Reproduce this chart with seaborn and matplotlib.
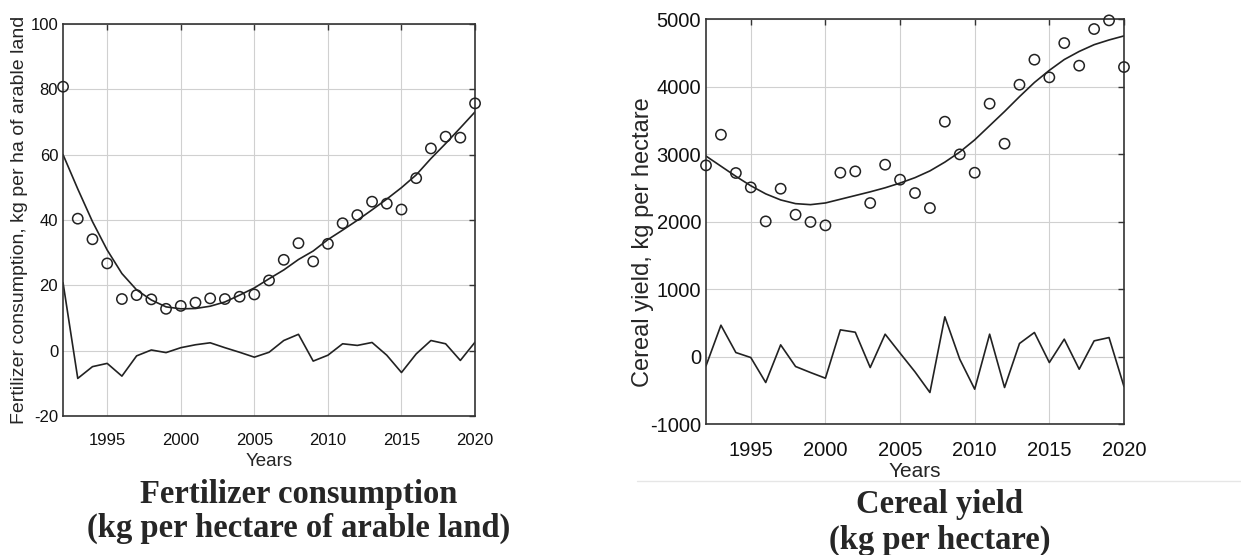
import numpy as np
import pandas as pd
import matplotlib.pyplot as plt
import seaborn as sns
from matplotlib.lines import Line2D

sns.set_style('whitegrid')
plt.rcParams['font.family'] = ['Liberation Sans', 'DejaVu Sans']

years = list(range(1992, 2021))

# fertilizer consumption, kg per ha of arable land
fert_obs = [80.8, 40.4, 34.1, 26.7, 15.8, 17.0, 15.7, 12.8, 13.7, 14.7,
            16.0, 15.8, 16.5, 17.2, 21.5, 27.8, 32.9, 27.3, 32.7, 39.0,
            41.5, 45.6, 45.0, 43.2, 52.8, 61.9, 65.5, 65.2, 75.7]
fert_trend = [60.0, 49.5, 39.5, 30.8, 23.6, 18.6, 15.5, 13.4, 12.8, 12.9,
              13.6, 14.9, 17.0, 19.2, 22.0, 24.7, 27.9, 30.5, 34.0, 36.9,
              39.9, 43.1, 46.4, 49.9, 53.8, 58.8, 63.4, 68.2, 73.1]
fert_resid = [20.8, -8.5, -4.9, -3.9, -7.8, -1.6, 0.2, -0.6, 0.9, 1.8,
              2.4, 0.9, -0.5, -2.0, -0.5, 3.1, 5.0, -3.2, -1.4, 2.1,
              1.6, 2.5, -1.4, -6.7, -1.0, 3.1, 2.1, -3.0, 2.6]

# cereal yield, kg per hectare
cereal_obs = [2832, 3286, 2719, 2506, 2002, 2486, 2101, 1993, 1943, 2723,
              2743, 2274, 2842, 2620, 2422, 2200, 3479, 2995, 2723, 3746,
              3153, 4027, 4398, 4136, 4644, 4309, 4852, 4980, 4289]
cereal_trend = [2970, 2820, 2670, 2530, 2410, 2320, 2265, 2250, 2275, 2330,
                2385, 2440, 2500, 2570, 2650, 2750, 2880, 3030, 3210, 3420,
                3630, 3850, 4060, 4240, 4400, 4520, 4620, 4690, 4750]
cereal_resid = [-138, 464, 59, -15, -385, 173, -148, -237, -321, 395,
                360, -163, 331, 50, -227, -533, 588, -40, -484, 331,
                -459, 193, 356, -89, 257, -188, 232, 281, -444]

fert = pd.DataFrame({'Years': years, 'obs': fert_obs, 'trend': fert_trend, 'resid': fert_resid})
cereal = pd.DataFrame({'Years': years, 'obs': cereal_obs, 'trend': cereal_trend, 'resid': cereal_resid})

fig = plt.figure(figsize=(12.41, 5.55), dpi=100)
ax1 = fig.add_axes([0.0508, 0.2505, 0.332, 0.7063])
ax2 = fig.add_axes([0.5689, 0.2360, 0.3368, 0.7297])


def panel(ax, df, ylim, yticks, ylabel, tick_fs, lab_fs, ylab_fs, xpad):
    sns.lineplot(x='Years', y='trend', data=df, ax=ax, color='#222222', lw=1.2)
    sns.lineplot(x='Years', y='resid', data=df, ax=ax, color='#222222', lw=1.2)
    sns.scatterplot(x='Years', y='obs', data=df, ax=ax, marker='o', s=55,
                    facecolor='none', edgecolor='#222222', linewidth=1.1,
                    zorder=5, clip_on=False)
    ax.set_xlim(1992, 2020)
    ax.set_ylim(*ylim)
    ax.set_xticks([1995, 2000, 2005, 2010, 2015, 2020])
    ax.set_yticks(yticks)
    ax.set_yticklabels([str(t) for t in yticks])
    ax.grid(True, color='#d0d0d0', lw=0.8)
    for s in ax.spines.values():
        s.set_color('#333333')
        s.set_linewidth(1.2)
    ax.tick_params(direction='in', length=4, width=1, color='#333333',
                   top=True, right=True, labelsize=tick_fs, labelcolor='#111111')
    ax.tick_params(axis='x', pad=12)
    ax.set_xlabel('Years', fontsize=lab_fs, labelpad=xpad)
    ax.set_ylabel(ylabel, fontsize=ylab_fs, labelpad=2)


panel(ax1, fert, (-20, 100), [-20, 0, 20, 40, 60, 80, 100],
      'Fertilizer consumption, kg per ha of arable land', 12, 13.5, 14, 4)
panel(ax2, cereal, (-1000, 5000), [-1000, 0, 1000, 2000, 3000, 4000, 5000],
      'Cereal yield, kg per hectare', 14.5, 15, 17, 2)
ax2.yaxis.set_label_coords(-0.125, 0.45)

# captions under each panel
cap = dict(family='Liberation Serif', fontweight='bold', fontsize=23.5, ha='center', va='baseline')
fig.text(299 / 1241, 1 - 503 / 555, 'Fertilizer consumption', **cap)
fig.text(299 / 1241, 1 - 537 / 555, '(kg per hectare of arable land)', **cap)
fig.text(940 / 1241, 1 - 513 / 555, 'Cereal yield', **cap)
fig.text(940 / 1241, 1 - 549 / 555, '(kg per hectare)', **cap)

fig.add_artist(Line2D([637 / 1241, 1], [1 - 481 / 555] * 2, color='#e6e6e6', lw=1))

fig.savefig('out.png', dpi=100)
